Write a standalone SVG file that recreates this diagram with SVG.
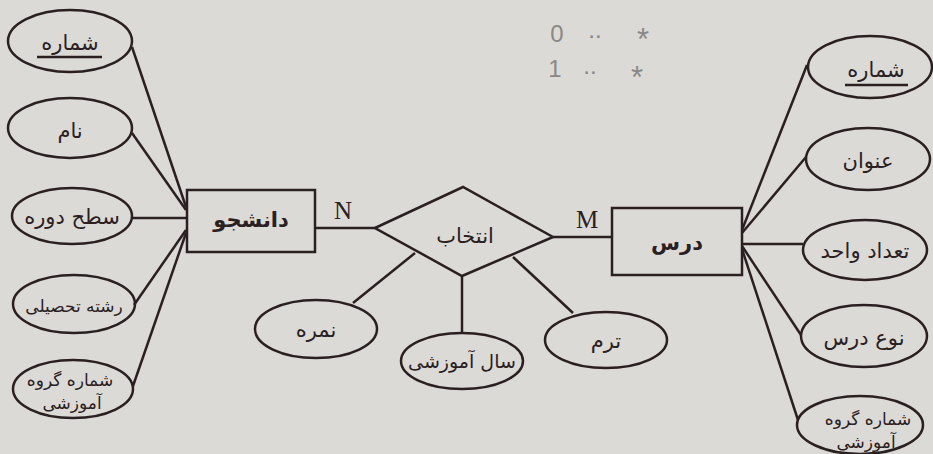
<svg xmlns="http://www.w3.org/2000/svg" width="933" height="454" viewBox="0 0 933 454">
<style>
.bg{fill:#dcdad6}
.sh{fill:none;stroke:#2a2022;stroke-width:2.5}
.ln{stroke:#2a2022;stroke-width:2.5;fill:none}
.t{font-family:"DejaVu Sans","Noto Sans",sans-serif;font-size:21px;fill:#2a2022;text-anchor:middle}
.s{font-size:17px}
.m{font-size:19px}
.b{font-weight:bold}
.c{font-family:"Liberation Serif",serif;font-size:25px;fill:#2a2022;text-anchor:middle}
.h{font-family:"Liberation Sans",sans-serif;font-size:24px;fill:#8a8886;text-anchor:middle}
.st{font-size:31px}
</style>
<rect class="bg" x="0" y="0" width="933" height="454"/>
<g id="connectors">
<line class="ln" x1="132" y1="47" x2="186" y2="207"/>
<line class="ln" x1="132" y1="133" x2="186" y2="210"/>
<line class="ln" x1="132" y1="218" x2="187" y2="218"/>
<line class="ln" x1="134" y1="305" x2="186" y2="230"/>
<line class="ln" x1="133" y1="386" x2="186" y2="233"/>
<line class="ln" x1="315" y1="228" x2="375" y2="228"/>
<line class="ln" x1="553" y1="237" x2="612" y2="237"/>
<line class="ln" x1="807" y1="65" x2="742" y2="230"/>
<line class="ln" x1="806" y1="157" x2="742" y2="233"/>
<line class="ln" x1="742" y1="244" x2="803" y2="244"/>
<line class="ln" x1="742" y1="246" x2="801" y2="335"/>
<line class="ln" x1="742" y1="249" x2="798" y2="420"/>
<line class="ln" x1="415" y1="253" x2="353" y2="303"/>
<line class="ln" x1="462" y1="276" x2="462" y2="333"/>
<line class="ln" x1="513" y1="257" x2="573" y2="313"/>
</g>
<g id="student">
<rect class="sh" x="187" y="190" width="128" height="62"/>
<text class="t b" x="251" y="227">دانشجو</text>
</g>
<g id="course">
<rect class="sh" x="612" y="208" width="130" height="67"/>
<text class="t b" x="677" y="250">درس</text>
</g>
<g id="select">
<polygon class="sh" points="375,228 463,187 553,237 462,276"/>
<text class="t" x="465" y="243">انتخاب</text>
</g>
<g id="card-n"><text class="c" x="343" y="219">N</text></g>
<g id="card-m"><text class="c" x="587" y="228">M</text></g>
<g id="s-number">
<ellipse class="sh" cx="70" cy="41" rx="62" ry="31"/>
<text class="t" x="70" y="50">شماره</text>
<line class="ln" x1="37" y1="57" x2="102" y2="57"/>
</g>
<g id="s-name">
<ellipse class="sh" cx="70" cy="128" rx="62" ry="30"/>
<text class="t" x="70" y="138">نام</text>
</g>
<g id="s-level">
<ellipse class="sh" cx="72" cy="216" rx="60" ry="28"/>
<text class="t" x="72" y="224">سطح دوره</text>
</g>
<g id="s-major">
<ellipse class="sh" cx="74" cy="304" rx="61" ry="29"/>
<text class="t s" x="74" y="312">رشته تحصیلی</text>
</g>
<g id="s-group">
<ellipse class="sh" cx="73" cy="389" rx="60" ry="29"/>
<text class="t s" x="70" y="386">شماره گروه</text>
<text class="t s" x="72" y="409">آموزشی</text>
</g>
<g id="r-grade">
<ellipse class="sh" cx="316" cy="329" rx="61" ry="29"/>
<text class="t" x="316" y="337">نمره</text>
</g>
<g id="r-year">
<ellipse class="sh" cx="462" cy="361" rx="61" ry="28"/>
<text class="t m" x="462" y="368">سال آموزشی</text>
</g>
<g id="r-term">
<ellipse class="sh" cx="606" cy="340" rx="61" ry="28"/>
<text class="t" x="606" y="348">ترم</text>
</g>
<g id="c-number">
<ellipse class="sh" cx="870" cy="67" rx="62" ry="31"/>
<text class="t" x="876" y="77">شماره</text>
<line class="ln" x1="845" y1="85" x2="908" y2="85"/>
</g>
<g id="c-title">
<ellipse class="sh" cx="868" cy="159" rx="62" ry="31"/>
<text class="t" x="868" y="168">عنوان</text>
</g>
<g id="c-units">
<ellipse class="sh" cx="865" cy="250" rx="62" ry="30"/>
<text class="t" x="865" y="258">تعداد واحد</text>
</g>
<g id="c-type">
<ellipse class="sh" cx="864" cy="336" rx="63" ry="31"/>
<text class="t" x="864" y="345">نوع درس</text>
</g>
<g id="c-group">
<ellipse class="sh" cx="860" cy="425" rx="63" ry="29"/>
<text class="t s" x="868" y="425">شماره گروه</text>
<text class="t s" x="866" y="448">آموزشی</text>
</g>
<g id="note">
<text class="h" x="557" y="42">0</text>
<text class="h" x="595" y="38">..</text>
<text class="h st" x="643" y="50">*</text>
<text class="h" x="555" y="77">1</text>
<text class="h" x="590" y="74">..</text>
<text class="h st" x="637" y="88">*</text>
</g>
</svg>
